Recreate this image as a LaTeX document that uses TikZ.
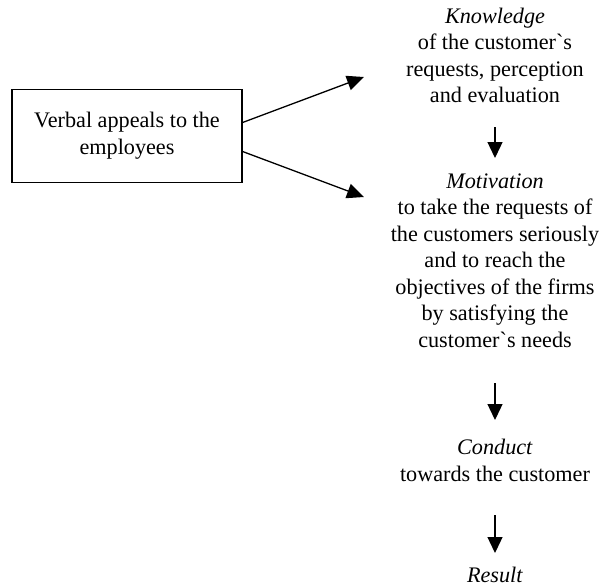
\documentclass[tikz,border=0pt]{standalone}
\usepackage{fontspec}
\setmainfont{Liberation Serif}
\usetikzlibrary{arrows.meta,calc}
\newcommand{\gq}{\textasciigrave}
\begin{document}
\begin{tikzpicture}[x=1pt,y=-1pt,
  txt/.style={align=center,inner sep=0pt,anchor=base,font=\fontsize{22.2}{26.5}\selectfont},
  box/.style={draw,line width=1.2pt,minimum width=230pt,minimum height=93pt,inner sep=0pt,
    align=center,font=\fontsize{22.2}{27}\selectfont},
  diag/.style={line width=1.3pt,-{Triangle[length=17pt,width=15pt]}},
  down/.style={line width=1.3pt,-{Triangle[length=16pt,width=15pt]}}]
  \useasboundingbox (0,0) rectangle (604,587);
  % source box
  \node[box] (appeal) at (127,136) {Verbal appeals to the\\employees};
  % chain of effects (base anchor = baseline of the last line)
  \node[txt] (know) at (495,102.5) {\textit{Knowledge}\\of the customer\gq s\\requests, perception\\and evaluation};
  \node[txt] (motiv) at (495,347) {\textit{Motivation}\\to take the requests of\\the customers seriously\\and to reach the\\objectives of the firms\\by satisfying the\\customer\gq s needs};
  \node[txt] (cond) at (495,481) {\textit{Conduct}\\towards the customer};
  \node[txt] (res) at (495,582) {\textit{Result}};
  % free ends of the diagonal arrows
  \coordinate (k-in) at (364,77);
  \coordinate (m-in) at (364,197);
  \draw[diag] ($(appeal.east)+(0,-13.5)$) -- (k-in);
  \draw[diag] ($(appeal.east)+(0,15.5)$) -- (m-in);
  % downward arrows
  \draw[down] ($(know.base)+(0,24.5)$) -- ($(motiv.base)+(0,-189)$);
  \draw[down] ($(motiv.base)+(0,36)$) -- ($(cond.base)+(0,-61)$);
  \draw[down] ($(cond.base)+(0,34)$) -- ($(res.base)+(0,-29)$);
\end{tikzpicture}
\end{document}
